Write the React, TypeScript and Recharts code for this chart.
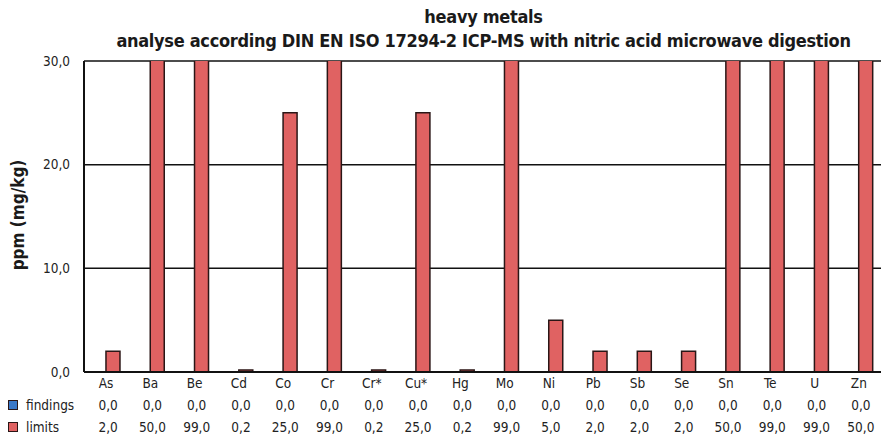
import { BarChart, Bar, XAxis, YAxis, CartesianGrid } from 'recharts';

const elements = ['As', 'Ba', 'Be', 'Cd', 'Co', 'Cr', 'Cr*', 'Cu*', 'Hg', 'Mo', 'Ni', 'Pb', 'Sb', 'Se', 'Sn', 'Te', 'U', 'Zn'];
const findings = [0, 0, 0, 0, 0, 0, 0, 0, 0, 0, 0, 0, 0, 0, 0, 0, 0, 0];
const limits = [2, 50, 99, 0.2, 25, 99, 0.2, 25, 0.2, 99, 5, 2, 2, 2, 50, 99, 99, 50];
const yTicks = [0, 10, 20, 30];

const FONT = "'DejaVu Sans Condensed', 'Liberation Sans Narrow', sans-serif";
const COLORS = {
  findings: '#3a78c8',
  limits: '#e06262',
  outline: '#2a1616',
};

const data = elements.map((name, i) => ({
  name,
  findings: findings[i],
  limits: limits[i],
}));

const fmt = (v: number) => v.toFixed(1).replace('.', ',');

// x tick doubles as the data table under the chart
function TableTick({ x, y, payload, index }: any) {
  return (
    <g fontFamily={FONT} fontSize={13.5} fill="#222" textAnchor="middle">
      <text x={x} y={y + 8}>{payload.value}</text>
      <text x={x + 2} y={y + 30}>{fmt(findings[index])}</text>
      <text x={x + 2} y={y + 52}>{fmt(limits[index])}</text>
    </g>
  );
}

function TableLegend() {
  const rows = [
    { label: 'findings', color: COLORS.findings },
    { label: 'limits', color: COLORS.limits },
  ];
  return (
    <div style={{ position: 'absolute', left: 8, top: 394, fontFamily: FONT, fontSize: 13.5, color: '#222' }}>
      {rows.map((r) => (
        <div key={r.label} style={{ display: 'flex', alignItems: 'center', height: 22 }}>
          <span
            style={{
              display: 'inline-block',
              width: 8,
              height: 8,
              background: r.color,
              border: `1px solid ${COLORS.outline}`,
              marginRight: 8,
            }}
          />
          {r.label}
        </div>
      ))}
    </div>
  );
}

export default function App() {
  return (
    <div style={{ position: 'relative', width: 883, height: 435, background: '#fff' }}>
      <style>{'body{margin:0}'}</style>
      <div
        style={{
          position: 'absolute',
          left: 84,
          width: 799,
          top: 5,
          textAlign: 'center',
          fontFamily: FONT,
          fontSize: 18,
          lineHeight: '24px',
          color: '#1a1a1a',
          fontWeight: 'bold',
          letterSpacing: -0.3,
          whiteSpace: 'nowrap',
        }}
      >
        heavy metals
        <br />
        analyse according DIN EN ISO 17294-2 ICP-MS with nitric acid microwave digestion
      </div>
      <div
        style={{
          position: 'absolute',
          left: 18,
          top: 215,
          transform: 'translate(-50%, -50%) rotate(-90deg)',
          fontFamily: FONT,
          fontSize: 17,
          fontWeight: 'bold',
          color: '#1a1a1a',
          whiteSpace: 'nowrap',
        }}
      >
        ppm (mg/kg)
      </div>
      <BarChart
        width={883}
        height={435}
        data={data}
        margin={{ top: 61, right: 2, bottom: 0, left: 0 }}
        barCategoryGap="18%"
        barGap={0}
      >
        <CartesianGrid vertical={false} stroke="#111" strokeWidth={1.5} horizontalValues={[10, 20, 30]} />
        <XAxis
          dataKey="name"
          height={63}
          axisLine={{ stroke: '#111', strokeWidth: 2 }}
          tickLine={false}
          tick={<TableTick />}
          interval={0}
        />
        <YAxis
          width={84}
          domain={[0, 30]}
          ticks={yTicks}
          allowDataOverflow
          axisLine={{ stroke: '#111', strokeWidth: 2 }}
          tickLine={false}
          tickFormatter={fmt}
          tick={{ fontFamily: FONT, fontSize: 13.5, fill: '#222' }}
          tickMargin={8}
        />
        <Bar dataKey="findings" fill={COLORS.findings} stroke={COLORS.outline} strokeWidth={1.5} isAnimationActive={false} />
        <Bar dataKey="limits" fill={COLORS.limits} stroke={COLORS.outline} strokeWidth={1.5} isAnimationActive={false} />
      </BarChart>
      <TableLegend />
    </div>
  );
}
